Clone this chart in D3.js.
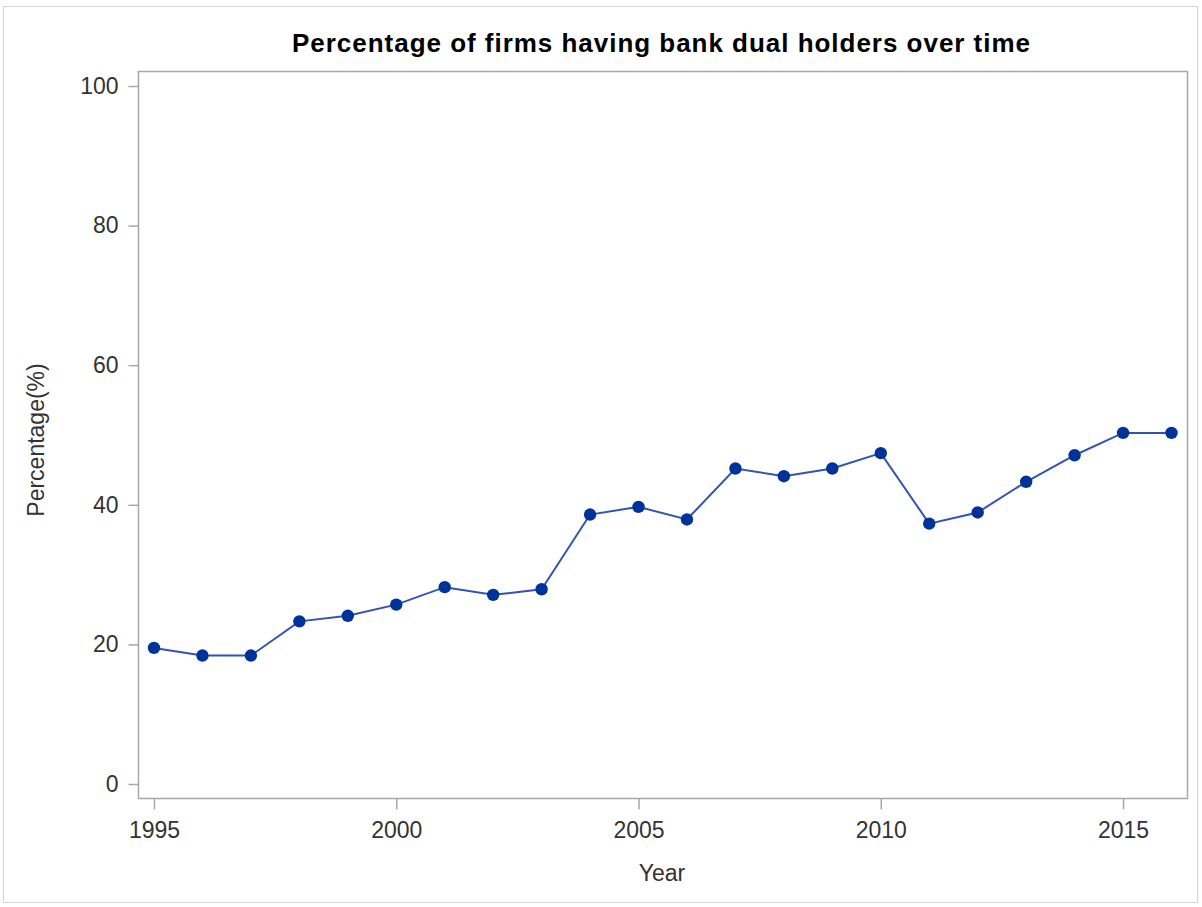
<!DOCTYPE html>
<html><head><meta charset="utf-8">
<script src="https://cdn.jsdelivr.net/npm/d3@7"></script>
<style>html,body{margin:0;padding:0;background:#fff;}svg{display:block;}</style>
</head><body>
<script>
const years = [1995,1996,1997,1998,1999,2000,2001,2002,2003,2004,2005,2006,2007,2008,2009,2010,2011,2012,2013,2014,2015,2016];
const percentages = [19.5,18.4,18.4,23.3,24.1,25.7,28.2,27.1,27.9,38.6,39.7,37.9,45.2,44.1,45.2,47.4,37.3,38.9,43.3,47.1,50.3,50.3];
const xTicks = [1995,2000,2005,2010,2015];
const yTicks = [0,20,40,60,80,100];
const title = "Percentage of firms having bank dual holders over time";
const xLabel = "Year";
const yLabel = "Percentage(%)";

const W = 1202, H = 907;
const svg = d3.select("body").append("svg").attr("width", W).attr("height", H);
svg.append("rect").attr("x", 3.5).attr("y", 6.5).attr("width", 1194).attr("height", 896)
  .attr("fill", "#fff").attr("stroke", "#d4d4d4").attr("stroke-width", 1);

const frame = {l: 138, r: 1187, t: 71, b: 798};
const x = d3.scaleLinear().domain([1995, 2016]).range([154, 1171.5]);
const y = d3.scaleLinear().domain([0, 100]).range([784, 86]);
const axisColor = "#a4a8ac";
const font = "Liberation Sans, Arial, sans-serif";

svg.append("rect").attr("x", frame.l + 0.5).attr("y", frame.t + 0.5)
  .attr("width", frame.r - frame.l).attr("height", frame.b - frame.t)
  .attr("fill", "none").attr("stroke", axisColor).attr("stroke-width", 1.5);

const xAxis = svg.append("g").attr("transform", `translate(0,${frame.b + 0.5})`)
  .call(d3.axisBottom(x).tickValues(xTicks).tickFormat(d3.format("d")).tickSize(11).tickPadding(12));
const yAxis = svg.append("g").attr("transform", `translate(${frame.l + 0.5},0)`)
  .call(d3.axisLeft(y).tickValues(yTicks).tickSize(10).tickPadding(10));
[xAxis, yAxis].forEach(a => {
  a.select(".domain").remove();
  a.selectAll(".tick line").attr("stroke", axisColor).attr("stroke-width", 1.5);
  a.selectAll(".tick text").attr("fill", "#333").style("font-family", font).style("font-size", "23px");
});

svg.append("text").attr("x", 661).attr("y", 52).attr("text-anchor", "middle")
  .attr("textLength", 738).attr("lengthAdjust", "spacing")
  .style("font-family", font).style("font-weight", "bold").style("font-size", "26px")
  .attr("fill", "#000").text(title);
svg.append("text").attr("x", 662).attr("y", 881).attr("text-anchor", "middle")
  .style("font-family", font).style("font-size", "23px").attr("fill", "#333").text(xLabel);
svg.append("text").attr("transform", "translate(44,440) rotate(-90)").attr("text-anchor", "middle")
  .style("font-family", font).style("font-size", "23px").attr("fill", "#333").text(yLabel);

const data = years.map((yr, i) => ({yr, v: percentages[i]}));
svg.append("path").datum(data)
  .attr("d", d3.line().x(d => x(d.yr)).y(d => y(d.v)))
  .attr("fill", "none").attr("stroke", "#2f55b0").attr("stroke-width", 2);
svg.selectAll("circle.pt").data(data).join("circle").attr("class", "pt")
  .attr("cx", d => x(d.yr)).attr("cy", d => y(d.v)).attr("r", 6.2)
  .attr("fill", "#003399");
</script>
</body></html>
